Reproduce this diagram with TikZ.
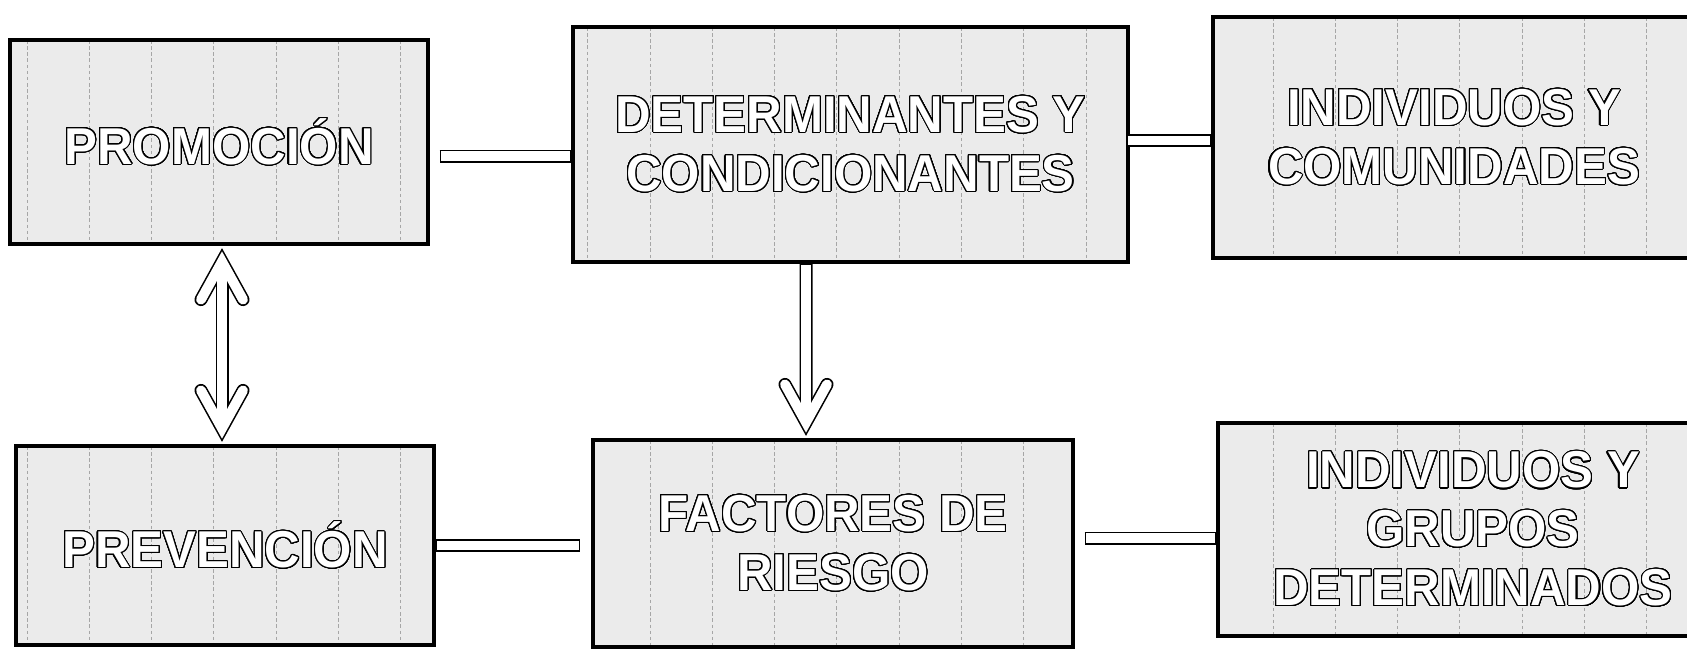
\documentclass[tikz,border=0pt]{standalone}
\usepackage{fontspec}
\newfontfamily\boxfont[FakeStretch=0.95]{Liberation Sans}
\usepackage{contour}
\contourlength{0.6pt}
\contournumber{32}
\newcommand{\hollow}[1]{\contour{black}{#1}}

\begin{document}
\begin{tikzpicture}[x=0.02cm, y=-0.02cm,
  box/.style={draw=black, line width=1.8pt, fill=black!8, inner sep=0pt,
    align=center, text=white, font=\boxfont\bfseries\fontsize{29.5}{33.5}\selectfont,
    path picture={\foreach \k in {0,...,8}
      \draw[seam] ([xshift=#1+\k*1.246cm]path picture bounding box.north west)
        -- ([xshift=#1+\k*1.246cm]path picture bounding box.south west);}},
  seam/.style={black!35, line width=0.5pt, dash pattern=on 2pt off 1.5pt},
  linkout/.style={black, line width=7.4pt},
  linkin/.style={white, line width=5.6pt},
  barb/.style={line cap=round, line join=miter}]
  \useasboundingbox (0,0) rectangle (1687,650);
  % top row
  \node[box=0.34cm, minimum width=8.36cm, minimum height=4.08cm] (prom) at (219,142)
    {\hollow{PROMOCIÓN}};
  \node[box=0.294cm, minimum width=11.1cm, minimum height=4.7cm] (det) at (850.5,144.5)
    {\hollow{DETERMINANTES Y}\\\hollow{CONDICIONANTES}};
  \node[box=1.2cm, minimum width=9.64cm, minimum height=4.82cm] (ind1) at (1454,137.5)
    {\hollow{INDIVIDUOS Y}\\\hollow{COMUNIDADES}};
  % bottom row
  \node[box=0.22cm, minimum width=8.36cm, minimum height=3.98cm] (prev) at (225,545.5)
    {\hollow{PREVENCIÓN}};
  \node[box=1.14cm, minimum width=9.6cm, minimum height=4.14cm] (fact) at (833,543.5)
    {\hollow{FACTORES DE}\\\hollow{RIESGO}};
  \node[box=1.1cm, minimum width=10.2cm, minimum height=4.26cm] (ind2) at (1473,529.5)
    {\hollow{INDIVIDUOS Y}\\\hollow{GRUPOS}\\\hollow{DETERMINADOS}};
  % arrow vertices
  \coordinate (up1) at ([shift={(3,16)}]prom.south);
  \coordinate (dn1) at ([shift={(-3,-16)}]prev.north);
  \coordinate (dn2) at ([shift={(-27,-16)}]fact.north);
  % hollow links, outline
  \draw[linkout, shorten <=5.7pt] ([yshift=-0.28cm]prom.east) -- ([yshift=-0.28cm]prom.east -| det.west);
  \draw[linkout] ([yshift=0.08cm]det.east) -- ([yshift=0.08cm]det.east -| ind1.west);
  \draw[linkout, shorten >=6.3pt] (prev.east) -- (prev.east -| fact.west);
  \draw[linkout, shorten <=5.7pt] ([yshift=0.11cm]fact.east) -- ([yshift=0.11cm]fact.east -| ind2.west);
  \draw[linkout] (up1) -- (dn1);
  \draw[linkout, barb] ([shift={(-21,38)}]up1) -- (up1) -- ([shift={(21,38)}]up1);
  \draw[linkout, barb] ([shift={(-21,-38)}]dn1) -- (dn1) -- ([shift={(21,-38)}]dn1);
  \draw[linkout] ([xshift=-0.89cm]det.south) -- (dn2);
  \draw[linkout, barb] ([shift={(-21,-38)}]dn2) -- (dn2) -- ([shift={(21,-38)}]dn2);
  % hollow links, inside
  \draw[linkin, shorten <=6.6pt, shorten >=0.9pt] ([yshift=-0.28cm]prom.east) -- ([yshift=-0.28cm]prom.east -| det.west);
  \draw[linkin, shorten <=-0.9pt, shorten >=0.9pt] ([yshift=0.08cm]det.east) -- ([yshift=0.08cm]det.east -| ind1.west);
  \draw[linkin, shorten <=0.9pt, shorten >=7.2pt] (prev.east) -- (prev.east -| fact.west);
  \draw[linkin, shorten <=6.6pt, shorten >=0.9pt] ([yshift=0.11cm]fact.east) -- ([yshift=0.11cm]fact.east -| ind2.west);
  \draw[linkin] (up1) -- (dn1);
  \draw[linkin, barb] ([shift={(-21,38)}]up1) -- (up1) -- ([shift={(21,38)}]up1);
  \draw[linkin, barb] ([shift={(-21,-38)}]dn1) -- (dn1) -- ([shift={(21,-38)}]dn1);
  \draw[linkin, shorten <=0.9pt] ([xshift=-0.89cm]det.south) -- (dn2);
  \draw[linkin, barb] ([shift={(-21,-38)}]dn2) -- (dn2) -- ([shift={(21,-38)}]dn2);
\end{tikzpicture}
\end{document}
